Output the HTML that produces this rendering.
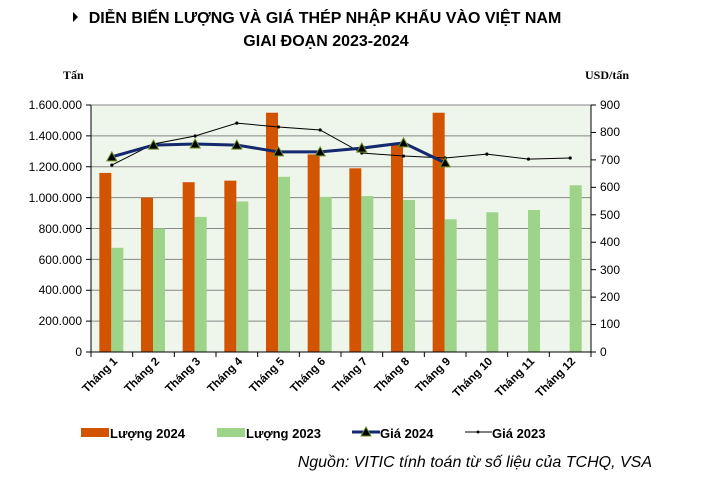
<!DOCTYPE html>
<html><head><meta charset="utf-8"><style>
body{margin:0;background:#fff;width:723px;height:480px;overflow:hidden}
svg{font-family:"Liberation Sans",Arial,sans-serif}
</style></head><body>
<svg id="s" width="723" height="480" viewBox="0 0 723 480">
<polygon points="73,12 78,17 73,22" fill="#000"/>
<text x="325" y="23" font-size="16" font-weight="bold" text-anchor="middle">DIỄN BIẾN LƯỢNG VÀ GIÁ THÉP NHẬP KHẨU VÀO VIỆT NAM</text>
<text x="326" y="46" font-size="16" font-weight="bold" text-anchor="middle">GIAI ĐOẠN 2023-2024</text>
<text x="63" y="79" font-size="12" font-weight="bold" font-family="Liberation Serif,serif">Tấn</text>
<text x="585" y="79" font-size="12" font-weight="bold" font-family="Liberation Serif,serif">USD/tấn</text>
<rect x="91" y="105" width="500" height="247" fill="#eef5ea"/>
<g id="g"></g>
<g font-size="12" text-anchor="end">
<text x="82" y="109">1.600.000</text><text x="82" y="140">1.400.000</text><text x="82" y="171">1.200.000</text><text x="82" y="202">1.000.000</text><text x="82" y="233">800.000</text><text x="82" y="264">600.000</text><text x="82" y="294">400.000</text><text x="82" y="325">200.000</text><text x="82" y="356">0</text>
</g>
<g font-size="12" text-anchor="start">
<text x="600" y="109">900</text><text x="600" y="136">800</text><text x="600" y="164">700</text><text x="600" y="191">600</text><text x="600" y="219">500</text><text x="600" y="246">400</text><text x="600" y="274">300</text><text x="600" y="301">200</text><text x="600" y="328">100</text><text x="600" y="356">0</text>
</g>
<g font-size="11.5" font-weight="bold" text-anchor="end">
<text transform="translate(118,362) rotate(-45)">Tháng 1</text>
<text transform="translate(160,362) rotate(-45)">Tháng 2</text>
<text transform="translate(201,362) rotate(-45)">Tháng 3</text>
<text transform="translate(243,362) rotate(-45)">Tháng 4</text>
<text transform="translate(285,362) rotate(-45)">Tháng 5</text>
<text transform="translate(326,362) rotate(-45)">Tháng 6</text>
<text transform="translate(368,362) rotate(-45)">Tháng 7</text>
<text transform="translate(410,362) rotate(-45)">Tháng 8</text>
<text transform="translate(451,362) rotate(-45)">Tháng 9</text>
<text transform="translate(493,362) rotate(-45)">Tháng 10</text>
<text transform="translate(535,362) rotate(-45)">Tháng 11</text>
<text transform="translate(576,362) rotate(-45)">Tháng 12</text>
</g>
<rect x="81" y="428" width="28" height="9" fill="#d35400"/>
<text x="110" y="438" font-size="13" font-weight="bold">Lượng 2024</text>
<rect x="217" y="428" width="28" height="9" fill="#9ed48a"/>
<text x="246" y="438" font-size="13" font-weight="bold">Lượng 2023</text>
<line x1="352" y1="432" x2="380" y2="432" stroke="#14286e" stroke-width="3"/>
<polygon points="366,427 371,436 361,436" fill="#000" stroke="#6b8e23"/>
<text x="380" y="438" font-size="13" font-weight="bold">Giá 2024</text>
<line x1="465" y1="432" x2="492" y2="432" stroke="#000" stroke-width="1"/>
<circle cx="478" cy="432" r="1.5"/>
<text x="492" y="438" font-size="13" font-weight="bold">Giá 2023</text>
<text x="652" y="467" font-size="16" font-style="italic" text-anchor="end">Nguồn: VITIC tính toán từ số liệu của TCHQ, VSA</text>
</svg>
<script>
var g=document.getElementById('g'),h='';
var X0=91,W=500,Y0=352,H=247,cw=W/12;
function yl(v){return Y0-v/1600000*H}function yr(v){return Y0-v/900*H}
for(var i=1;i<=8;i++){var y=Y0-i*H/8;h+='<line x1="91" x2="591" y1="'+y+'" y2="'+y+'" stroke="#888" stroke-width="1"/>';}
var o=[1160000,1000000,1100000,1110000,1550000,1280000,1190000,1350000,1550000];
var gr=[675000,800000,875000,975000,1135000,1005000,1010000,985000,860000,905000,920000,1080000];
for(var i=0;i<12;i++){var c=X0+cw*(i+.5);
if(i<9)h+='<rect x="'+(c-12.5)+'" y="'+yl(o[i])+'" width="12" height="'+(Y0-yl(o[i]))+'" fill="#d35400"/>';
h+='<rect x="'+(c-0.5)+'" y="'+yl(gr[i])+'" width="12" height="'+(Y0-yl(gr[i]))+'" fill="#9ed48a"/>';}
h+='<line x1="91" x2="91" y1="105" y2="352" stroke="#000"/><line x1="591" x2="591" y1="105" y2="352" stroke="#000"/><line x1="91" x2="591" y1="352" y2="352" stroke="#000"/>';
for(var i=0;i<=12;i++){var x=X0+cw*i;h+='<line x1="'+x+'" x2="'+x+'" y1="352" y2="357" stroke="#000"/>';}
for(var i=0;i<=8;i++){var y=Y0-i*H/8;h+='<line x1="86" x2="91" y1="'+y+'" y2="'+y+'" stroke="#000"/>';}
for(var i=0;i<=9;i++){var y=Y0-i*H/9;h+='<line x1="591" x2="596" y1="'+y+'" y2="'+y+'" stroke="#000"/>';}
var p3=[681,758,787,834,820,809,725,714,707,721,703,707],p4=[711,754,758,754,729,729,743,762,689];
var s='';for(var i=0;i<12;i++)s+=(X0+cw*(i+.5))+','+yr(p3[i])+' ';
h+='<polyline points="'+s+'" fill="none" stroke="#000" stroke-width="1"/>';
for(var i=0;i<12;i++)h+='<circle cx="'+(X0+cw*(i+.5))+'" cy="'+yr(p3[i])+'" r="1.6"/>';
s='';for(var i=0;i<9;i++)s+=(X0+cw*(i+.5))+','+yr(p4[i])+' ';
h+='<polyline points="'+s+'" fill="none" stroke="#14286e" stroke-width="3"/>';
for(var i=0;i<9;i++){var c=X0+cw*(i+.5),y=yr(p4[i]);h+='<polygon points="'+c+','+(y-5)+' '+(c+5)+','+(y+4)+' '+(c-5)+','+(y+4)+'" fill="#000" stroke="#6b8e23"/>';}
g.innerHTML=h;
</script>
</body></html>
